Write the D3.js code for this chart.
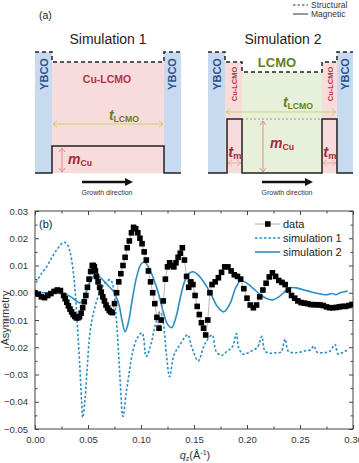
<!DOCTYPE html>
<html>
<head>
<meta charset="utf-8">
<script src="https://cdn.jsdelivr.net/npm/d3@7"></script>
<style>
body { margin: 0; background: #fff; }
svg { display: block; font-family: "Liberation Sans", Arial, sans-serif; }
</style>
</head>
<body>
<svg id="chart"></svg>
<script>
// ---- panel (b) data ----
var qData = [0.000,0.003,0.006,0.009,0.012,0.015,0.018,0.021,0.024,0.027,0.0285,0.030,0.0315,0.033,0.0345,0.036,0.0375,0.039,0.0405,0.042,0.0435,0.045,0.0465,0.048,0.0495,0.051,0.0525,0.054,0.055,0.056,0.057,0.058,0.0595,0.061,0.0625,0.064,0.0655,0.067,0.0685,0.070,0.0715,0.073,0.075,0.077,0.079,0.081,0.083,0.085,0.087,0.089,0.091,0.093,0.095,0.097,0.099,0.101,0.103,0.105,0.107,0.109,0.111,0.113,0.115,0.117,0.119,0.121,0.123,0.125,0.127,0.129,0.131,0.133,0.135,0.137,0.139,0.141,0.143,0.145,0.147,0.149,0.151,0.153,0.155,0.157,0.159,0.161,0.163,0.165,0.167,0.170,0.173,0.176,0.179,0.182,0.185,0.188,0.191,0.194,0.197,0.200,0.203,0.206,0.209,0.212,0.215,0.218,0.221,0.224,0.227,0.230,0.233,0.236,0.239,0.242,0.245,0.248,0.251,0.254,0.257,0.260,0.263,0.266,0.269,0.272,0.275,0.278,0.281,0.284,0.287,0.290,0.293,0.296,0.299]
var aData = [0.0000,-0.0005,-0.0015,-0.0018,-0.0010,-0.0003,0.0005,0.0010,0.0008,-0.0010,-0.0022,-0.0035,-0.0048,-0.0060,-0.0070,-0.0080,-0.0087,-0.0092,-0.0092,-0.0088,-0.0075,-0.0055,-0.0033,-0.0010,0.0020,0.0050,0.0078,0.0100,0.0100,0.0095,0.0080,0.0060,0.0040,0.0020,0.0002,-0.0015,-0.0030,-0.0045,-0.0056,-0.0065,-0.0070,-0.0073,-0.0040,0.0000,0.0040,0.0070,0.0100,0.0130,0.0165,0.0190,0.0220,0.0240,0.0235,0.0220,0.0200,0.0180,0.0150,0.0120,0.0080,0.0040,0.0000,-0.0040,-0.0090,-0.0130,-0.0100,-0.0030,0.0050,0.0095,0.0110,0.0100,0.0095,0.0110,0.0130,0.0145,0.0165,0.0120,0.0060,0.0020,0.0040,0.0030,-0.0010,-0.0050,-0.0080,-0.0110,-0.0130,-0.0155,-0.0100,0.0000,0.0030,0.0040,0.0055,0.0075,0.0095,0.0095,0.0080,0.0066,0.0060,0.0050,0.0015,-0.0020,-0.0045,-0.0055,-0.0045,-0.0015,0.0010,0.0035,0.0058,0.0073,0.0060,0.0045,0.0038,0.0030,0.0010,-0.0010,-0.0020,-0.0030,-0.0036,-0.0038,-0.0040,-0.0043,-0.0044,-0.0044,-0.0045,-0.0047,-0.0052,-0.0055,-0.0055,-0.0054,-0.0052,-0.0050,-0.0050,-0.0047,-0.0043]

var qSim1 = [0.001,0.006,0.011,0.016,0.021,0.027,0.030,0.033,0.036,0.038,0.040,0.042,0.044,0.045,0.047,0.049,0.052,0.056,0.061,0.066,0.071,0.074,0.076,0.078,0.080,0.083,0.086,0.089,0.092,0.096,0.101,0.105,0.110,0.113,0.118,0.121,0.124,0.127,0.131,0.136,0.141,0.144,0.148,0.154,0.160,0.167,0.171,0.176,0.181,0.186,0.190,0.192,0.196,0.200,0.205,0.210,0.214,0.217,0.222,0.227,0.232,0.236,0.239,0.245,0.250,0.256,0.260,0.263,0.266,0.272,0.278,0.283,0.286,0.292,0.296]
var aSim1 = [0.0037,0.0070,0.0095,0.0130,0.0160,0.0185,0.0180,0.0150,0.0080,0.0000,-0.0120,-0.0250,-0.0400,-0.0458,-0.0400,-0.0290,-0.0143,-0.0060,0.0000,0.0035,0.0048,0.0020,-0.0060,-0.0165,-0.0300,-0.0454,-0.0370,-0.0290,-0.0220,-0.0170,-0.0147,-0.0234,-0.0180,-0.0125,-0.0070,-0.0110,-0.0227,-0.0308,-0.0230,-0.0195,-0.0165,-0.0154,-0.0200,-0.0250,-0.0190,-0.0155,-0.0216,-0.0230,-0.0215,-0.0200,-0.0150,-0.0200,-0.0225,-0.0222,-0.0212,-0.0200,-0.0160,-0.0215,-0.0222,-0.0220,-0.0218,-0.0170,-0.0215,-0.0220,-0.0218,-0.0212,-0.0210,-0.0195,-0.0218,-0.0220,-0.0215,-0.0190,-0.0225,-0.0215,-0.0210]

var qSim2 = [0.000,0.010,0.020,0.028,0.034,0.039,0.042,0.045,0.048,0.052,0.057,0.062,0.068,0.074,0.079,0.082,0.085,0.088,0.092,0.096,0.100,0.103,0.107,0.112,0.117,0.121,0.125,0.129,0.133,0.137,0.141,0.145,0.149,0.154,0.160,0.166,0.172,0.178,0.184,0.189,0.194,0.200,0.206,0.212,0.218,0.224,0.230,0.236,0.240,0.246,0.252,0.258,0.264,0.270,0.276,0.280,0.284,0.288,0.292,0.295]
var aSim2 = [0.0000,0.0000,-0.0001,-0.0005,-0.0015,-0.0030,-0.0037,-0.0030,0.0000,0.0040,0.0066,0.0055,0.0030,0.0005,-0.0040,-0.0100,-0.0143,-0.0110,-0.0020,0.0060,0.0105,0.0113,0.0095,0.0050,-0.0010,-0.0070,-0.0115,-0.0128,-0.0090,-0.0020,0.0040,0.0070,0.0077,0.0065,0.0035,-0.0005,-0.0050,-0.0070,-0.0040,0.0015,0.0044,0.0035,0.0015,-0.0005,-0.0020,-0.0026,-0.0015,0.0005,0.0018,0.0018,0.0012,0.0006,0.0000,-0.0005,-0.0007,-0.0003,-0.0007,0.0000,0.0004,0.0006]

var xTicks = [0, 0.05, 0.10, 0.15, 0.20, 0.25, 0.30]
var yTicks = [0.03, 0.02, 0.01, 0.00, -0.01, -0.02, -0.03, -0.04, -0.05]
var seriesNames = ["data", "simulation 1", "simulation 2"]

var blue = "#2b8cc6"

var svg = d3.select("#chart")
  .attr("width", 359)
  .attr("height", 463)

svg.append("rect").attr("width", 359).attr("height", 463).attr("fill", "#fff")

// ================= panel (a): schematic =================
var a = svg.append("g")

a.append("text").attr("x", 39).attr("y", 19).attr("font-size", 10.5).attr("fill", "#222").text("(a)")

// top-right key
var key = a.append("g")
key.append("line").attr("x1", 293).attr("x2", 308).attr("y1", 5).attr("y2", 5)
  .attr("stroke", "#333").attr("stroke-width", 1).attr("stroke-dasharray", "2.5,2")
key.append("line").attr("x1", 293).attr("x2", 308).attr("y1", 14).attr("y2", 14)
  .attr("stroke", "#333").attr("stroke-width", 1)
key.append("text").attr("x", 311).attr("y", 8).attr("font-size", 8.5).attr("fill", "#333").text("Structural")
key.append("text").attr("x", 311).attr("y", 17).attr("font-size", 8.5).attr("fill", "#333").text("Magnetic")

var ybcoFill = "#c7daf0", pinkFill = "#f8dbdb", greenFill = "#e7f0d8"
var redText = "#b3344a", ybcoText = "#2b4f90", olive = "#6a7d1e"
var yBot = 173

function vtext(g, x, y, txt, size, color) {
  g.append("text")
    .attr("transform", "translate(" + x + "," + y + ") rotate(-90)")
    .attr("text-anchor", "middle")
    .attr("dominant-baseline", "central")
    .attr("font-size", size)
    .attr("font-weight", "bold")
    .attr("fill", color)
    .text(txt)
}

function hArrow(g, x1, x2, y, color, w) {
  g.append("line").attr("x1", x1).attr("x2", x2).attr("y1", y).attr("y2", y)
    .attr("stroke", color).attr("stroke-width", w)
  g.append("path").attr("d", "M" + (x1 + 4) + "," + (y - 3) + "L" + x1 + "," + y + "L" + (x1 + 4) + "," + (y + 3))
    .attr("fill", "none").attr("stroke", color).attr("stroke-width", w)
  g.append("path").attr("d", "M" + (x2 - 4) + "," + (y - 3) + "L" + x2 + "," + y + "L" + (x2 - 4) + "," + (y + 3))
    .attr("fill", "none").attr("stroke", color).attr("stroke-width", w)
}

function vArrow(g, x, y1, y2, color) {
  g.append("line").attr("x1", x).attr("x2", x).attr("y1", y1).attr("y2", y2)
    .attr("stroke", color).attr("stroke-width", 1)
  g.append("path").attr("d", "M" + (x - 3) + "," + (y1 + 4) + "L" + x + "," + y1 + "L" + (x + 3) + "," + (y1 + 4))
    .attr("fill", "none").attr("stroke", color).attr("stroke-width", 1)
  g.append("path").attr("d", "M" + (x - 3) + "," + (y2 - 4) + "L" + x + "," + y2 + "L" + (x + 3) + "," + (y2 - 4))
    .attr("fill", "none").attr("stroke", color).attr("stroke-width", 1)
}

function subLabel(g, x, y, main, sub, color, size) {
  var t = g.append("text").attr("x", x).attr("y", y).attr("text-anchor", "middle").attr("fill", color)
  t.append("tspan").attr("font-style", "italic").attr("font-size", size).attr("font-weight", "bold").text(main)
  t.append("tspan").attr("font-size", size * 0.62).attr("font-weight", "bold").attr("dy", 2).text(sub)
}

function growth(g, cx) {
  g.append("line").attr("x1", cx - 25).attr("x2", cx + 20).attr("y1", 182).attr("y2", 182)
    .attr("stroke", "#111").attr("stroke-width", 2.6)
  g.append("path").attr("d", "M" + (cx + 26) + ",182L" + (cx + 18) + ",178L" + (cx + 18) + ",186Z").attr("fill", "#111")
  g.append("text").attr("x", cx).attr("y", 195).attr("text-anchor", "middle")
    .attr("font-size", 7).attr("fill", "#333").text("Growth direction")
}

// Simulation 1
var s1 = a.append("g")
s1.append("text").attr("x", 108).attr("y", 44).attr("text-anchor", "middle").attr("font-size", 14).attr("fill", "#222").text("Simulation 1")
s1.append("rect").attr("x", 35).attr("y", 52).attr("width", 17).attr("height", yBot - 52).attr("fill", ybcoFill)
s1.append("rect").attr("x", 52).attr("y", 62).attr("width", 112).attr("height", yBot - 62).attr("fill", pinkFill)
s1.append("rect").attr("x", 164).attr("y", 52).attr("width", 17).attr("height", yBot - 52).attr("fill", ybcoFill)
s1.append("path").attr("d", "M35,52H52V62H164V52H181")
  .attr("fill", "none").attr("stroke", "#222").attr("stroke-width", 1.5).attr("stroke-dasharray", "4,3")
s1.append("path").attr("d", "M35," + yBot + "H52V146H164V" + yBot + "H181")
  .attr("fill", "none").attr("stroke", "#222").attr("stroke-width", 1.5)
vtext(s1, 44, 74, "YBCO", 11, ybcoText)
vtext(s1, 172, 74, "YBCO", 11, ybcoText)
s1.append("text").attr("x", 107).attr("y", 83).attr("text-anchor", "middle").attr("font-size", 10.5)
  .attr("font-weight", "bold").attr("fill", redText).text("Cu-LCMO")
hArrow(s1, 53, 163, 124, "#c5d56e", 1)
subLabel(s1, 124, 120, "t", "LCMO", olive, 14)
vArrow(s1, 62, 148, 172, "#e38a8a")
subLabel(s1, 80, 164, "m", "Cu", "#a52a3e", 14)
growth(s1, 107)

// Simulation 2
var s2 = a.append("g")
s2.append("text").attr("x", 283).attr("y", 44).attr("text-anchor", "middle").attr("font-size", 14).attr("fill", "#222").text("Simulation 2")
s2.append("rect").attr("x", 208).attr("y", 52).attr("width", 17).attr("height", yBot - 52).attr("fill", ybcoFill)
s2.append("rect").attr("x", 225).attr("y", 62).attr("width", 17).attr("height", yBot - 62).attr("fill", pinkFill)
s2.append("rect").attr("x", 242).attr("y", 72).attr("width", 80).attr("height", yBot - 72).attr("fill", greenFill)
s2.append("rect").attr("x", 322).attr("y", 62).attr("width", 15).attr("height", yBot - 62).attr("fill", pinkFill)
s2.append("rect").attr("x", 337).attr("y", 52).attr("width", 16).attr("height", yBot - 52).attr("fill", ybcoFill)
s2.append("path").attr("d", "M208,52H225V62H242V72H322V62H337V52H353")
  .attr("fill", "none").attr("stroke", "#222").attr("stroke-width", 1.5).attr("stroke-dasharray", "4,3")
s2.append("line").attr("x1", 242).attr("x2", 322).attr("y1", 119).attr("y2", 119)
  .attr("stroke", "#d77a7a").attr("stroke-width", 1).attr("stroke-dasharray", "2,2")
s2.append("path").attr("d", "M208," + yBot + "H227V119H242V" + yBot + "H322V119H337V" + yBot + "H353")
  .attr("fill", "none").attr("stroke", "#222").attr("stroke-width", 1.5)
vtext(s2, 217, 74, "YBCO", 11, ybcoText)
vtext(s2, 345, 74, "YBCO", 11, ybcoText)
vtext(s2, 234, 84, "Cu-LCMO", 7.5, redText)
vtext(s2, 330, 84, "Cu-LCMO", 7.5, redText)
s2.append("text").attr("x", 277).attr("y", 67).attr("text-anchor", "middle").attr("font-size", 13)
  .attr("font-weight", "bold").attr("fill", "#5f7f1f").text("LCMO")
hArrow(s2, 226, 336, 112, "#c5d56e", 1)
subLabel(s2, 298, 107, "t", "LCMO", olive, 14)
vArrow(s2, 263, 121, 172, "#e38a8a")
subLabel(s2, 282, 148, "m", "Cu", "#a52a3e", 14)
subLabel(s2, 235, 157, "t", "m", "#a52a3e", 15)
subLabel(s2, 330, 157, "t", "m", "#a52a3e", 15)
hArrow(s2, 228, 241, 163, "#eaa0a0", 0.8)
hArrow(s2, 323, 336, 163, "#eaa0a0", 0.8)
growth(s2, 287)

// ================= panel (b): chart =================
var margin = { left: 35, right: 6, top: 211, bottom: 34 }
var x0 = margin.left, x1 = 359 - margin.right
var y0 = 463 - margin.bottom, y1 = margin.top

var xScale = d3.scaleLinear().domain([0, 0.3]).range([x0, x1])
var yScale = d3.scaleLinear().domain([-0.05, 0.03]).range([y0, y1])

var plot = svg.append("g")
var axisColor = "#444"

function styleAxis(g) {
  g.select(".domain").remove()
  g.selectAll("line").attr("stroke", axisColor)
  g.selectAll("text").attr("fill", "#333").attr("font-size", 9.5).attr("font-family", "Liberation Sans, Arial, sans-serif")
}

var xMinor = d3.range(0.025, 0.3, 0.05)
var yMinor = d3.range(-0.045, 0.03, 0.01)

plot.append("g").attr("transform", "translate(0," + y0 + ")")
  .call(d3.axisBottom(xScale).tickValues(xTicks).tickSize(-4).tickPadding(7).tickFormat(d3.format(".2f")))
  .call(styleAxis)
plot.append("g").attr("transform", "translate(0," + y0 + ")")
  .call(d3.axisBottom(xScale).tickValues(xMinor).tickSize(-2.5).tickFormat(""))
  .call(styleAxis)
plot.append("g").attr("transform", "translate(0," + y1 + ")")
  .call(d3.axisTop(xScale).tickValues(xTicks).tickSize(-4).tickFormat(""))
  .call(styleAxis)
plot.append("g").attr("transform", "translate(0," + y1 + ")")
  .call(d3.axisTop(xScale).tickValues(xMinor).tickSize(-2.5).tickFormat(""))
  .call(styleAxis)
plot.append("g").attr("transform", "translate(" + x0 + ",0)")
  .call(d3.axisLeft(yScale).tickValues(yTicks).tickSize(-4).tickPadding(7).tickFormat(d3.format(".2f")))
  .call(styleAxis)
plot.append("g").attr("transform", "translate(" + x0 + ",0)")
  .call(d3.axisLeft(yScale).tickValues(yMinor).tickSize(-2.5).tickFormat(""))
  .call(styleAxis)
plot.append("g").attr("transform", "translate(" + x1 + ",0)")
  .call(d3.axisRight(yScale).tickValues(yTicks).tickSize(-4).tickFormat(""))
  .call(styleAxis)
plot.append("g").attr("transform", "translate(" + x1 + ",0)")
  .call(d3.axisRight(yScale).tickValues(yMinor).tickSize(-2.5).tickFormat(""))
  .call(styleAxis)

plot.append("rect").attr("x", x0).attr("y", y1).attr("width", x1 - x0).attr("height", y0 - y1)
  .attr("fill", "none").attr("stroke", axisColor).attr("stroke-width", 1)

var clip = svg.append("clipPath").attr("id", "clip")
clip.append("rect").attr("x", x0).attr("y", y1).attr("width", x1 - x0).attr("height", y0 - y1)

var lines = plot.append("g").attr("clip-path", "url(#clip)")
var line = d3.line().x(function(d){ return xScale(d[0]) }).y(function(d){ return yScale(d[1]) })

var sim1 = qSim1.map(function(q, i){ return [q, aSim1[i]] })
var sim2 = qSim2.map(function(q, i){ return [q, aSim2[i]] })
var dat = qData.map(function(q, i){ return [q, aData[i]] })

lines.append("path").datum(sim1)
  .attr("d", line.curve(d3.curveCatmullRom))
  .attr("fill", "none").attr("stroke", blue).attr("stroke-width", 1.6).attr("stroke-dasharray", "2.5,2")
lines.append("path").datum(sim2)
  .attr("d", line.curve(d3.curveCatmullRom))
  .attr("fill", "none").attr("stroke", blue).attr("stroke-width", 1.6)
lines.append("path").datum(dat)
  .attr("d", line.curve(d3.curveLinear))
  .attr("fill", "none").attr("stroke", "#999").attr("stroke-width", 0.7)
lines.selectAll("rect.pt").data(dat).enter().append("rect")
  .attr("class", "pt")
  .attr("x", function(d){ return xScale(d[0]) - 2.8 })
  .attr("y", function(d){ return yScale(d[1]) - 2.8 })
  .attr("width", 5.6).attr("height", 5.6)
  .attr("fill", "#000")

plot.append("text").attr("x", 39).attr("y", 228).attr("font-size", 11).attr("fill", "#222").text("(b)")

// legend
var leg = plot.append("g").selectAll("g").data(seriesNames).enter().append("g")
  .attr("transform", function(d, i){ return "translate(255," + (224 + i * 14) + ")" })
leg.append("line").attr("x1", 0).attr("x2", 25).attr("y1", 0).attr("y2", 0)
  .attr("stroke", function(d, i){ return i == 0 ? "#999" : blue })
  .attr("stroke-width", function(d, i){ return i == 0 ? 0.8 : 1.6 })
  .attr("stroke-dasharray", function(d, i){ return i == 1 ? "2.5,2" : null })
leg.filter(function(d, i){ return i == 0 }).append("rect")
  .attr("x", 10).attr("y", -2.8).attr("width", 5.6).attr("height", 5.6).attr("fill", "#000")
leg.append("text").attr("x", 28).attr("y", 4).attr("font-size", 11).attr("fill", "#222").text(function(d){ return d })

// axis titles
plot.append("text")
  .attr("transform", "translate(9,318) rotate(-90)")
  .attr("text-anchor", "middle").attr("font-size", 11).attr("fill", "#333").text("Asymmetry")

var xt = plot.append("text").attr("x", 195).attr("y", 459).attr("text-anchor", "middle")
  .attr("font-size", 11).attr("fill", "#333")
xt.append("tspan").attr("font-style", "italic").text("q")
xt.append("tspan").attr("font-size", 7).attr("dy", 2).text("z")
xt.append("tspan").attr("dy", -2).text("(Å")
xt.append("tspan").attr("font-size", 7).attr("dy", -4).text("-1")
xt.append("tspan").attr("dy", 4).text(")")
</script>
</body>
</html>
